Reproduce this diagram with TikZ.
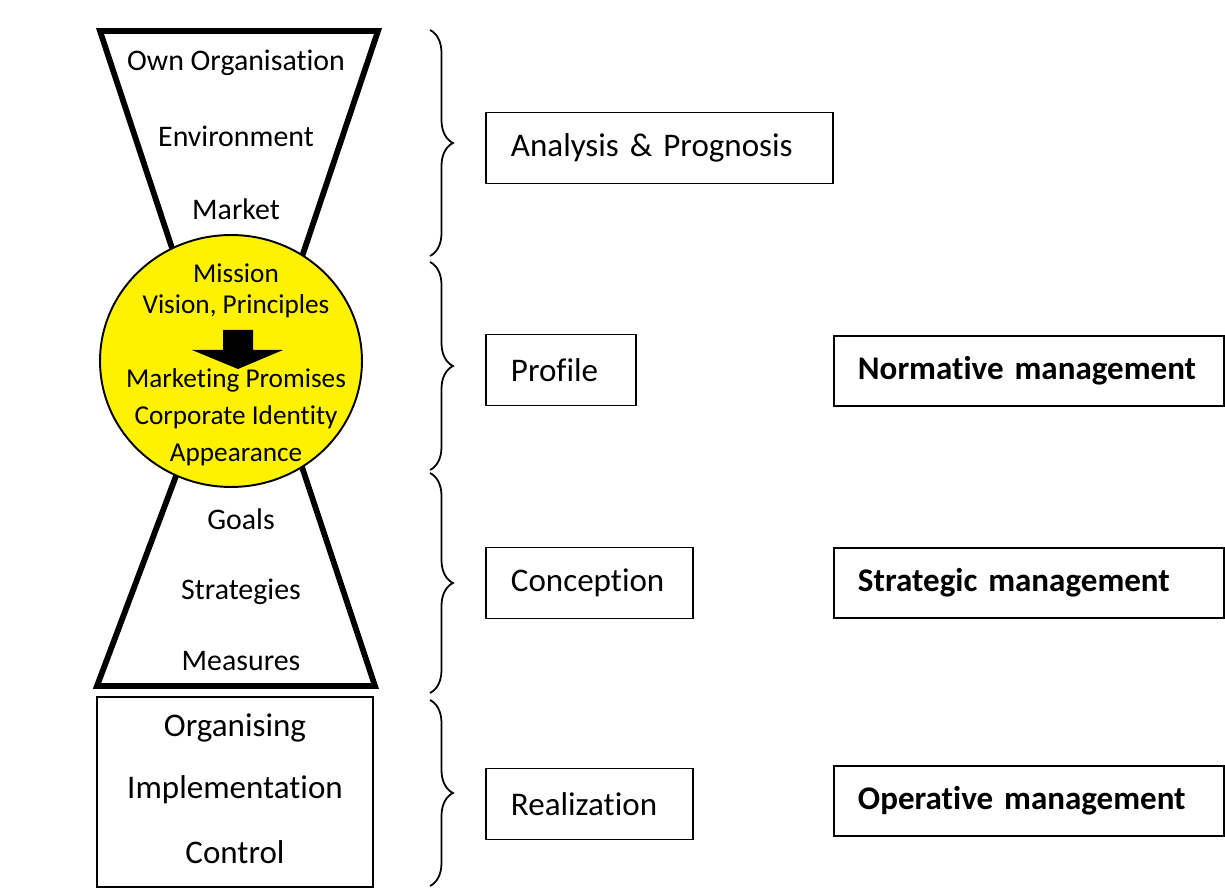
\documentclass[tikz,border=0pt]{standalone}
\usepackage{fontspec}
\setmainfont[Ligatures=NoCommon]{Carlito}
\usepackage{tikz}
\usetikzlibrary{shapes.geometric}
\usetikzlibrary{calc,positioning}
\usetikzlibrary{decorations.pathreplacing}
\tikzstyle{funnel}=[line width=3.3pt, line join=miter]
\tikzstyle{lbl}=[font=\fontsize{17}{20}\selectfont, inner sep=0pt]
\tikzstyle{clbl}=[font=\fontsize{15.5}{18}\selectfont, inner sep=0pt]
\tikzstyle{blbl}=[font=\fontsize{18.8}{22}\selectfont, inner sep=0pt]
\tikzstyle{phase}=[draw, line width=1.1pt, font=\fontsize{18.8}{22}\selectfont, align=left, inner xsep=0.5cm, minimum height=1.42cm, anchor=west]
\tikzstyle{mgmt}=[draw, line width=1.1pt, font=\bfseries\fontsize{18.8}{22}\selectfont, align=left, inner xsep=0.48cm, text width=6.84cm, minimum height=1.4cm, anchor=west]
\tikzstyle{brc}=[decorate, decoration={brace, amplitude=0.46cm}, line width=1pt]

\begin{document}
\begin{tikzpicture}
 [x=0.02cm, y=-0.02cm, node distance=1.46cm]
 \useasboundingbox (0,0) rectangle (1225,888);
 % hourglass
 \coordinate (tl) at (100,31);
 \coordinate (tr) at (378,31);
 \coordinate (bl) at (97,686);
 \coordinate (br) at (375,686);
 \draw[funnel] ($(tl)!1.4!(166,230)$) -- (tl) -- (tr) -- ($(tr)!1.4!(311,230)$);
 \draw[funnel] ($(bl)!1.4!(167,500)$) -- (bl) -- (br) -- ($(br)!1.4!(313,500)$);
 \node[draw, line width=1.1pt, fill=yellow, ellipse, minimum width=5.24cm, minimum height=5.04cm] (core) at (231,361) {};
 \fill (223,330) -- (253,330) -- (253,350) -- (283,350) -- (238,369) -- (192,350) -- (223,350) -- cycle;
 \draw[line width=1.1pt] (97,697) rectangle (373,887);
 % left column
 \node[lbl] (own) at (236,63) {Own Organisation};
 \node[lbl] (env) [below of=own] {Environment};
 \node[lbl] (mkt) [below of=env] {Market};
 \node[clbl] (mis) at (236,273) {Mission};
 \node[clbl] (vis) [below of=mis, node distance=0.66cm] {Vision, Principles};
 \node[clbl] (prom) at (236,380) {Marketing Promises};
 \node[clbl] (cid) [below of=prom, node distance=0.74cm] {Corporate Identity};
 \node[clbl] (app) [below of=cid, node distance=0.76cm] {Appearance};
 \node[lbl] (goal) at (241,519) {Goals};
 \node[lbl] (strat) [below of=goal] {Strategies};
 \node[lbl] (meas) [below of=strat, node distance=1.38cm] {Measures};
 \node[blbl] (org) at (235,728) {Organising};
 \node[blbl] (impl) [below of=org, node distance=1.24cm] {Implementation};
 \node[blbl] (ctrl) [below of=impl, node distance=1.24cm] {Control};
 % braces
 \coordinate (b1t) at (430,30);  \coordinate (b1b) at (430,256);
 \coordinate (b2t) at (430,262); \coordinate (b2b) at (430,470);
 \coordinate (b3t) at (430,473); \coordinate (b3b) at (430,693);
 \coordinate (b4t) at (430,700); \coordinate (b4b) at (430,886);
 \draw[brc] (b1t) -- (b1b);
 \draw[brc] (b2t) -- (b2b);
 \draw[brc] (b3t) -- (b3b);
 \draw[brc] (b4t) -- (b4b);
 % phases
 \node[phase, text width=5.94cm] (ana) at (485,148) {Analysis \& Prognosis};
 \node[phase, text width=2.0cm] (prof) at (485,370) {Profile};
 \node[phase, text width=3.14cm] (conc) at (485,583) {Conception};
 \node[phase, text width=3.14cm] (real) at (485,804) {Realization};
 \node[mgmt] (norm) at (833,371) {Normative management};
 \node[mgmt] (strm) at (833,583) {Strategic management};
 \node[mgmt] (oper) at (833,801) {Operative management};
\end{tikzpicture}
\end{document}
